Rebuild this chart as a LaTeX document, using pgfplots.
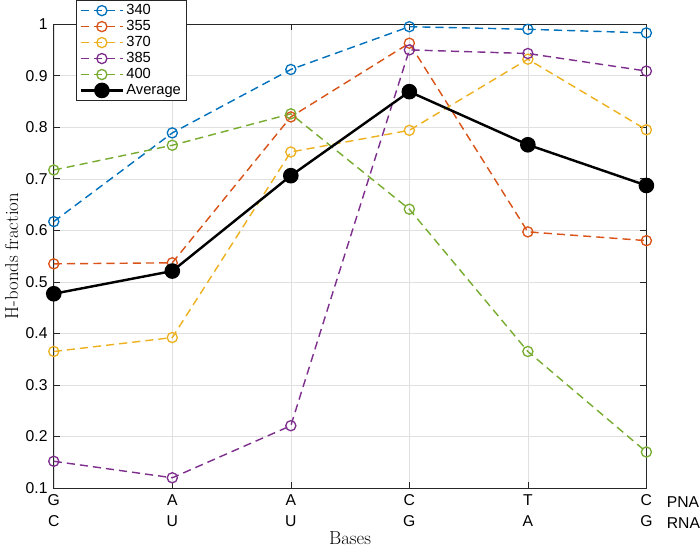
\documentclass[border=0pt]{standalone}
\usepackage{pgfplots}
\pgfplotsset{compat=1.18}
\usepackage{fontspec}
\setmainfont{Liberation Sans}
\newfontfamily\seriffont{Latin Modern Roman}
\definecolor{c1}{rgb}{0,0.447,0.741}
\definecolor{c2}{rgb}{0.85,0.325,0.098}
\definecolor{c3}{rgb}{0.929,0.694,0.125}
\definecolor{c4}{rgb}{0.494,0.184,0.556}
\definecolor{c5}{rgb}{0.466,0.674,0.188}
\begin{document}
\fontsize{15}{17}\selectfont
\begin{tikzpicture}
\begin{axis}[
  scale only axis, width=585pt, height=458pt,
  xmin=1, xmax=6, ymin=0.1, ymax=1,
  xtick={1,2,3,4,5,6},
  xticklabels={G\\C, A\\U, A\\U, C\\G, T\\A, C\\G},
  xticklabel style={align=center, font=\fontsize{15.5}{21}\selectfont, yshift=-1pt},
  ytick={0.1,0.2,0.3,0.4,0.5,0.6,0.7,0.8,0.9,1},
  yticklabels={0.1,0.2,0.3,0.4,0.5,0.6,0.7,0.8,0.9,1},
  yticklabel style={font=\fontsize{15.5}{17}\selectfont, xshift=-1pt},
  tick align=inside, tick style={black!85, line width=0.6pt}, major tick length=6pt,
  grid=major, grid style={black!12, line width=0.5pt},
  axis line style={black!85, line width=0.8pt},
  ylabel={\seriffont H-bonds fraction}, xlabel={\seriffont Bases},
  ylabel style={font=\fontsize{18.5}{20}\selectfont, yshift=-3pt},
  xlabel style={font=\fontsize{18.5}{20}\selectfont, yshift=5pt},
  clip=false,
  legend cell align=left,
  legend style={at={(rel axis cs:0.0376,1.052)}, anchor=north west, draw=black!85, line width=0.6pt, fill=white,
    font=\fontsize{14.5}{15}\selectfont, row sep=-0.6pt, inner sep=2pt, inner xsep=3pt},
  legend image code/.code={\draw[mark repeat=2,mark phase=2,#1] plot coordinates {(0pt,0pt)(21pt,0pt)(42pt,0pt)};},
]
\addplot[c1, dashed, dash pattern=on 8pt off 5pt, line width=1.4pt, mark=o, mark size=5pt, mark options={solid, line width=1.3pt}]
 coordinates {(1,0.617)(2,0.789)(3,0.912)(4,0.995)(5,0.990)(6,0.983)};
\addlegendentry{340}
\addplot[c2, dashed, dash pattern=on 8pt off 5pt, line width=1.4pt, mark=o, mark size=5pt, mark options={solid, line width=1.3pt}]
 coordinates {(1,0.535)(2,0.537)(3,0.820)(4,0.963)(5,0.597)(6,0.580)};
\addlegendentry{355}
\addplot[c3, dashed, dash pattern=on 8pt off 5pt, line width=1.4pt, mark=o, mark size=5pt, mark options={solid, line width=1.3pt}]
 coordinates {(1,0.365)(2,0.392)(3,0.752)(4,0.794)(5,0.932)(6,0.795)};
\addlegendentry{370}
\addplot[c4, dashed, dash pattern=on 8pt off 5pt, line width=1.4pt, mark=o, mark size=5pt, mark options={solid, line width=1.3pt}]
 coordinates {(1,0.152)(2,0.120)(3,0.221)(4,0.950)(5,0.943)(6,0.909)};
\addlegendentry{385}
\addplot[c5, dashed, dash pattern=on 8pt off 5pt, line width=1.4pt, mark=o, mark size=5pt, mark options={solid, line width=1.3pt}]
 coordinates {(1,0.717)(2,0.765)(3,0.826)(4,0.641)(5,0.365)(6,0.170)};
\addlegendentry{400}
\addplot[black, solid, line width=2.4pt, mark=*, mark size=6.5pt]
 coordinates {(1,0.477)(2,0.521)(3,0.706)(4,0.869)(5,0.766)(6,0.687)};
\addlegendentry{Average}
\node[anchor=north west, align=left, font=\fontsize{15.5}{21}\selectfont, inner sep=0pt] at ([xshift=20pt,yshift=-8pt]rel axis cs:1,0) {PNA\\RNA};
\end{axis}
\end{tikzpicture}
\end{document}
